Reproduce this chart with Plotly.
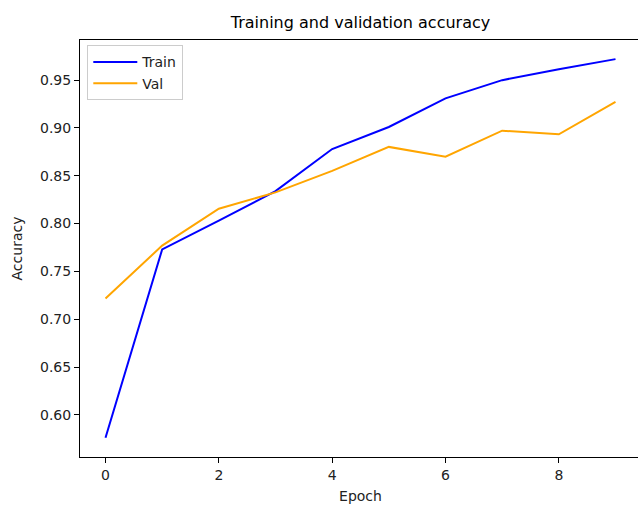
import plotly.graph_objects as go

epochs = list(range(10))
train_acc = [0.576, 0.773, 0.803, 0.834, 0.878, 0.901, 0.931, 0.950, 0.9615, 0.972]
val_acc = [0.7216, 0.777, 0.8156, 0.8326, 0.8552, 0.8802, 0.870, 0.8972, 0.8934, 0.9274]
y_ticks = [0.60, 0.65, 0.70, 0.75, 0.80, 0.85, 0.90, 0.95]
x_ticks = [0, 2, 4, 6, 8]

fig = go.Figure()
fig.add_trace(go.Scatter(x=epochs, y=train_acc, mode="lines", name="Train",
                         line=dict(color="blue", width=2)))
fig.add_trace(go.Scatter(x=epochs, y=val_acc, mode="lines", name="Val",
                         line=dict(color="orange", width=2)))

font_family = "DejaVu Sans"
fig.update_layout(
    width=646, height=506,
    margin=dict(l=80, r=5, t=40, b=49),
    paper_bgcolor="white", plot_bgcolor="white",
    font=dict(family=font_family, size=13, color="#222222"),
    title=dict(text="Training and validation accuracy", x=0.5, xref="paper",
               y=1 - 22 / 506, yref="container", yanchor="middle", xanchor="center",
               font=dict(size=16, color="black")),
    showlegend=True,
    legend=dict(x=0.013, y=0.987, xanchor="left", yanchor="top",
                bgcolor="white", bordercolor="#cccccc", borderwidth=1,
                itemwidth=44, tracegroupgap=0,
                font=dict(size=14, color="#222222")),
)
fig.update_xaxes(range=[-0.45, 9.45], tickvals=x_ticks, ticks="outside", ticklen=5,
                 tickcolor="black", showline=True, linecolor="black", linewidth=1,
                 mirror=True, showgrid=False, zeroline=False,
                 tickfont=dict(size=14), title=dict(text="Epoch", font=dict(size=14), standoff=9))
fig.update_yaxes(range=[0.5559, 0.9920], tickvals=y_ticks, tickformat=".2f", ticks="outside",
                 ticklen=5, tickcolor="black", showline=True, linecolor="black", linewidth=1,
                 mirror=True, showgrid=False, zeroline=False,
                 tickfont=dict(size=14), title=dict(text="Accuracy", font=dict(size=14), standoff=14))

fig.write_html("out.html",
               config={"displayModeBar": False},
               post_script="document.body.style.margin='0px';document.body.style.overflow='hidden';")
